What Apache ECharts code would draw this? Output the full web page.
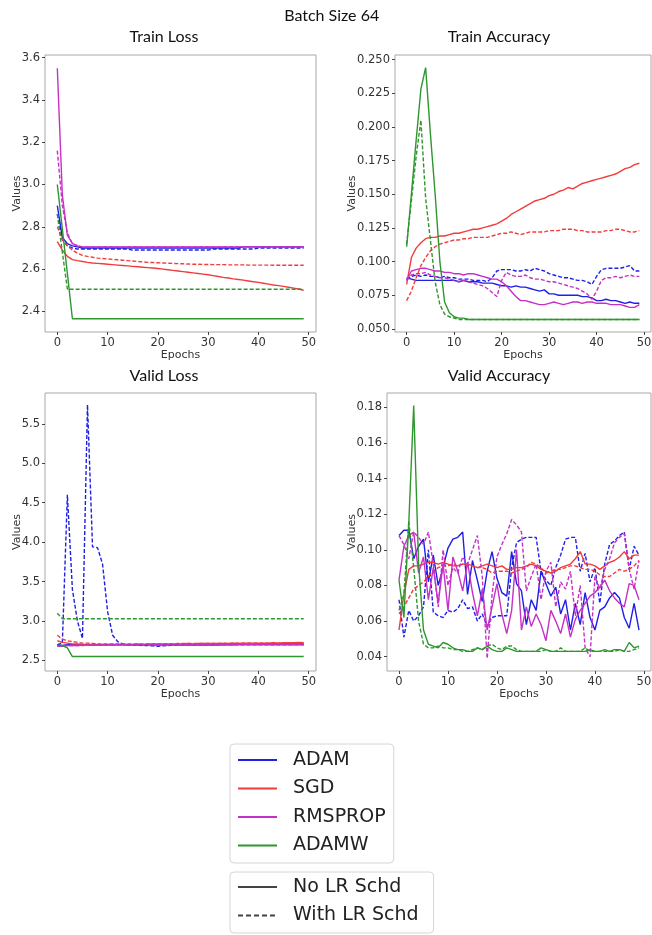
<!DOCTYPE html>
<html>
<head>
<meta charset="utf-8">
<script src="https://cdn.jsdelivr.net/npm/echarts@6/dist/echarts.min.js"></script>
<style>
  html, body { margin: 0; padding: 0; background: #fff; }
  #chart { width: 652px; height: 935px; }
</style>
</head>
<body>
<div id="chart"></div>
<script>
var epochs = [];
for (var i = 0; i < 50; i++) {
  epochs.push(i);
}

// Train Loss
var trainLossAdam = [
  2.90, 2.75, 2.72, 2.71, 2.705, 2.70, 2.70, 2.70, 2.70, 2.70,
  2.70, 2.70, 2.70, 2.70, 2.70, 2.70, 2.70, 2.70, 2.70, 2.70,
  2.70, 2.70, 2.70, 2.70, 2.70, 2.70, 2.70, 2.70, 2.70, 2.70,
  2.70, 2.70, 2.70, 2.70, 2.70, 2.70, 2.70, 2.705, 2.705, 2.705,
  2.705, 2.705, 2.705, 2.705, 2.705, 2.705, 2.705, 2.705, 2.705, 2.705
];
var trainLossAdamLR = [
  2.86, 2.74, 2.71, 2.70, 2.695, 2.695, 2.695, 2.695, 2.695, 2.695,
  2.695, 2.695, 2.695, 2.695, 2.695, 2.69, 2.69, 2.69, 2.69, 2.69,
  2.69, 2.69, 2.69, 2.69, 2.69, 2.69, 2.69, 2.69, 2.69, 2.69,
  2.69, 2.695, 2.695, 2.695, 2.695, 2.695, 2.695, 2.695, 2.695, 2.695,
  2.70, 2.70, 2.70, 2.70, 2.70, 2.70, 2.70, 2.70, 2.70, 2.70
];
var trainLossSgd = [
  2.73, 2.69, 2.66, 2.645, 2.64, 2.636, 2.632, 2.629, 2.627, 2.625,
  2.623, 2.621, 2.619, 2.617, 2.615, 2.613, 2.611, 2.609, 2.607, 2.605,
  2.603, 2.600, 2.597, 2.594, 2.591, 2.588, 2.585, 2.582, 2.579, 2.576,
  2.573, 2.569, 2.565, 2.561, 2.558, 2.554, 2.551, 2.548, 2.544, 2.540,
  2.537, 2.533, 2.529, 2.525, 2.522, 2.518, 2.514, 2.510, 2.506, 2.500
];
var trainLossSgdLR = [
  2.80, 2.74, 2.71, 2.69, 2.675, 2.665, 2.66, 2.656, 2.652, 2.65,
  2.648, 2.646, 2.644, 2.642, 2.64, 2.638, 2.636, 2.634, 2.632, 2.631,
  2.63, 2.629, 2.628, 2.627, 2.626, 2.625, 2.624, 2.623, 2.623, 2.622,
  2.622, 2.621, 2.621, 2.621, 2.620, 2.620, 2.620, 2.620, 2.619, 2.619,
  2.619, 2.619, 2.619, 2.618, 2.618, 2.618, 2.618, 2.618, 2.618, 2.618
];
var trainLossRms = [
  3.55, 2.95, 2.76, 2.72, 2.71, 2.705, 2.705, 2.705, 2.705, 2.705,
  2.705, 2.705, 2.705, 2.705, 2.705, 2.705, 2.705, 2.705, 2.705, 2.705,
  2.705, 2.705, 2.705, 2.705, 2.705, 2.705, 2.705, 2.705, 2.705, 2.705,
  2.705, 2.705, 2.705, 2.705, 2.705, 2.705, 2.705, 2.705, 2.705, 2.705,
  2.705, 2.705, 2.705, 2.705, 2.705, 2.705, 2.705, 2.705, 2.705, 2.705
];
var trainLossRmsLR = [
  3.16, 2.90, 2.77, 2.72, 2.71, 2.705, 2.705, 2.705, 2.705, 2.705,
  2.705, 2.705, 2.705, 2.705, 2.705, 2.705, 2.705, 2.705, 2.705, 2.705,
  2.705, 2.705, 2.705, 2.705, 2.705, 2.705, 2.705, 2.705, 2.705, 2.705,
  2.705, 2.705, 2.705, 2.705, 2.705, 2.705, 2.705, 2.705, 2.705, 2.705,
  2.705, 2.705, 2.705, 2.705, 2.705, 2.705, 2.705, 2.705, 2.705, 2.705
];
var trainLossAdamw = [
  3.00, 2.79, 2.58, 2.365, 2.365, 2.365, 2.365, 2.365, 2.365, 2.365,
  2.365, 2.365, 2.365, 2.365, 2.365, 2.365, 2.365, 2.365, 2.365, 2.365,
  2.365, 2.365, 2.365, 2.365, 2.365, 2.365, 2.365, 2.365, 2.365, 2.365,
  2.365, 2.365, 2.365, 2.365, 2.365, 2.365, 2.365, 2.365, 2.365, 2.365,
  2.365, 2.365, 2.365, 2.365, 2.365, 2.365, 2.365, 2.365, 2.365, 2.365
];
var trainLossAdamwLR = [
  2.86, 2.68, 2.505, 2.505, 2.505, 2.505, 2.505, 2.505, 2.505, 2.505,
  2.505, 2.505, 2.505, 2.505, 2.505, 2.505, 2.505, 2.505, 2.505, 2.505,
  2.505, 2.505, 2.505, 2.505, 2.505, 2.505, 2.505, 2.505, 2.505, 2.505,
  2.505, 2.505, 2.505, 2.505, 2.505, 2.505, 2.505, 2.505, 2.505, 2.505,
  2.505, 2.505, 2.505, 2.505, 2.505, 2.505, 2.505, 2.505, 2.505, 2.505
];

// Train Accuracy
var trainAccAdam = [
  0.088, 0.087, 0.086, 0.086, 0.086, 0.086, 0.086, 0.086, 0.086, 0.086,
  0.086, 0.085, 0.086, 0.085, 0.085, 0.085, 0.084, 0.084, 0.084, 0.083,
  0.082, 0.082, 0.081, 0.082, 0.081, 0.081, 0.080, 0.079, 0.078, 0.079,
  0.076, 0.076, 0.075, 0.075, 0.075, 0.075, 0.075, 0.074, 0.074, 0.073,
  0.071, 0.071, 0.072, 0.071, 0.071, 0.070, 0.069, 0.070, 0.069, 0.069
];
var trainAccAdamLR = [
  0.087, 0.089, 0.090, 0.089, 0.090, 0.089, 0.089, 0.088, 0.089, 0.088,
  0.088, 0.087, 0.087, 0.087, 0.086, 0.086, 0.086, 0.085, 0.088, 0.093,
  0.094, 0.094, 0.094, 0.093, 0.093, 0.094, 0.093, 0.095, 0.094, 0.093,
  0.091, 0.090, 0.089, 0.088, 0.088, 0.087, 0.086, 0.086, 0.085, 0.083,
  0.089, 0.094, 0.095, 0.095, 0.095, 0.095, 0.096, 0.097, 0.093, 0.093
];
var trainAccSgd = [
  0.083, 0.103, 0.110, 0.114, 0.117, 0.118, 0.118, 0.119, 0.119, 0.120,
  0.121, 0.121, 0.122, 0.123, 0.124, 0.124, 0.125, 0.126, 0.127, 0.128,
  0.130, 0.132, 0.135, 0.137, 0.139, 0.141, 0.143, 0.145, 0.146, 0.147,
  0.149, 0.150, 0.152, 0.153, 0.155, 0.154, 0.156, 0.158, 0.159, 0.160,
  0.161, 0.162, 0.163, 0.164, 0.165, 0.167, 0.169, 0.170, 0.172, 0.173
];
var trainAccSgdLR = [
  0.071, 0.078, 0.088, 0.097, 0.103, 0.108, 0.111, 0.113, 0.114, 0.115,
  0.116, 0.116, 0.117, 0.117, 0.118, 0.118, 0.118, 0.118, 0.119, 0.120,
  0.121, 0.121, 0.122, 0.121, 0.120, 0.121, 0.122, 0.122, 0.122, 0.122,
  0.123, 0.123, 0.123, 0.124, 0.124, 0.124, 0.123, 0.123, 0.122, 0.122,
  0.122, 0.122, 0.123, 0.123, 0.124, 0.124, 0.123, 0.122, 0.122, 0.123
];
var trainAccRms = [
  0.086, 0.093, 0.094, 0.095, 0.095, 0.094, 0.093, 0.093, 0.092, 0.092,
  0.091, 0.091, 0.090, 0.091, 0.091, 0.090, 0.089, 0.088, 0.087, 0.087,
  0.085, 0.082, 0.078, 0.074, 0.071, 0.071, 0.070, 0.069, 0.068, 0.068,
  0.069, 0.070, 0.069, 0.068, 0.069, 0.070, 0.070, 0.069, 0.070, 0.070,
  0.069, 0.069, 0.069, 0.068, 0.068, 0.068, 0.067, 0.066, 0.066, 0.068
];
var trainAccRmsLR = [
  0.086, 0.090, 0.091, 0.091, 0.092, 0.090, 0.089, 0.088, 0.088, 0.087,
  0.086, 0.085, 0.086, 0.085, 0.084, 0.083, 0.082, 0.080, 0.077, 0.074,
  0.086, 0.092, 0.090, 0.089, 0.089, 0.090, 0.088, 0.087, 0.087, 0.086,
  0.085, 0.085, 0.084, 0.083, 0.082, 0.081, 0.080, 0.078, 0.076, 0.072,
  0.078, 0.086, 0.088, 0.088, 0.089, 0.088, 0.089, 0.090, 0.089, 0.089
];
var trainAccAdamw = [
  0.111, 0.150, 0.190, 0.228, 0.244, 0.195, 0.150, 0.100, 0.070, 0.062,
  0.059, 0.058, 0.058, 0.057, 0.057, 0.057, 0.057, 0.057, 0.057, 0.057,
  0.057, 0.057, 0.057, 0.057, 0.057, 0.057, 0.057, 0.057, 0.057, 0.057,
  0.057, 0.057, 0.057, 0.057, 0.057, 0.057, 0.057, 0.057, 0.057, 0.057,
  0.057, 0.057, 0.057, 0.057, 0.057, 0.057, 0.057, 0.057, 0.057, 0.057
];
var trainAccAdamwLR = [
  0.113, 0.145, 0.178, 0.205, 0.147, 0.116, 0.085, 0.068, 0.061, 0.059,
  0.058, 0.057, 0.057, 0.057, 0.057, 0.057, 0.057, 0.057, 0.057, 0.057,
  0.057, 0.057, 0.057, 0.057, 0.057, 0.057, 0.057, 0.057, 0.057, 0.057,
  0.057, 0.057, 0.057, 0.057, 0.057, 0.057, 0.057, 0.057, 0.057, 0.057,
  0.057, 0.057, 0.057, 0.057, 0.057, 0.057, 0.057, 0.057, 0.057, 0.057
];

// Valid Loss
var validLossAdam = [
  2.69, 2.69, 2.70, 2.70, 2.70, 2.70, 2.70, 2.70, 2.70, 2.70,
  2.70, 2.70, 2.70, 2.70, 2.70, 2.70, 2.70, 2.70, 2.70, 2.70,
  2.70, 2.70, 2.70, 2.70, 2.70, 2.70, 2.70, 2.70, 2.70, 2.70,
  2.70, 2.70, 2.70, 2.705, 2.705, 2.705, 2.705, 2.705, 2.705, 2.705,
  2.71, 2.71, 2.71, 2.71, 2.71, 2.71, 2.71, 2.71, 2.71, 2.71
];
var validLossAdamLR = [
  2.70, 2.72, 4.60, 3.40, 3.00, 2.78, 5.74, 3.94, 3.93, 3.72,
  3.12, 2.82, 2.74, 2.71, 2.70, 2.70, 2.695, 2.69, 2.69, 2.685,
  2.68, 2.685, 2.69, 2.695, 2.70, 2.70, 2.70, 2.70, 2.70, 2.70,
  2.70, 2.70, 2.70, 2.70, 2.70, 2.70, 2.70, 2.70, 2.70, 2.70,
  2.70, 2.70, 2.70, 2.70, 2.70, 2.70, 2.70, 2.70, 2.70, 2.70
];
var validLossSgd = [
  2.75, 2.73, 2.72, 2.71, 2.71, 2.705, 2.705, 2.705, 2.705, 2.705,
  2.705, 2.705, 2.705, 2.705, 2.705, 2.705, 2.71, 2.705, 2.71, 2.71,
  2.71, 2.71, 2.71, 2.71, 2.71, 2.71, 2.715, 2.71, 2.715, 2.715,
  2.715, 2.715, 2.715, 2.715, 2.715, 2.72, 2.715, 2.72, 2.72, 2.72,
  2.72, 2.72, 2.72, 2.725, 2.72, 2.725, 2.725, 2.725, 2.73, 2.725
];
var validLossSgdLR = [
  2.82, 2.77, 2.75, 2.74, 2.73, 2.72, 2.72, 2.715, 2.71, 2.71,
  2.71, 2.71, 2.71, 2.71, 2.71, 2.71, 2.71, 2.71, 2.71, 2.71,
  2.71, 2.71, 2.715, 2.71, 2.715, 2.715, 2.715, 2.715, 2.715, 2.715,
  2.715, 2.715, 2.715, 2.72, 2.715, 2.72, 2.72, 2.72, 2.72, 2.72,
  2.72, 2.72, 2.72, 2.72, 2.72, 2.72, 2.72, 2.72, 2.725, 2.72
];
var validLossRms = [
  2.68, 2.68, 2.69, 2.69, 2.69, 2.695, 2.695, 2.695, 2.695, 2.695,
  2.70, 2.70, 2.70, 2.70, 2.70, 2.70, 2.70, 2.70, 2.70, 2.70,
  2.70, 2.70, 2.70, 2.70, 2.70, 2.70, 2.70, 2.70, 2.70, 2.70,
  2.70, 2.70, 2.70, 2.70, 2.70, 2.70, 2.705, 2.705, 2.705, 2.705,
  2.705, 2.705, 2.705, 2.705, 2.705, 2.705, 2.705, 2.705, 2.705, 2.705
];
var validLossRmsLR = [
  2.69, 2.685, 2.69, 2.69, 2.69, 2.69, 2.695, 2.695, 2.695, 2.695,
  2.695, 2.695, 2.70, 2.70, 2.70, 2.70, 2.70, 2.70, 2.70, 2.70,
  2.70, 2.70, 2.70, 2.70, 2.70, 2.70, 2.70, 2.70, 2.70, 2.70,
  2.70, 2.70, 2.70, 2.70, 2.70, 2.70, 2.70, 2.70, 2.70, 2.70,
  2.70, 2.70, 2.70, 2.70, 2.70, 2.70, 2.70, 2.70, 2.70, 2.70
];
var validLossAdamw = [
  2.69, 2.69, 2.66, 2.55, 2.55, 2.55, 2.55, 2.55, 2.55, 2.55,
  2.55, 2.55, 2.55, 2.55, 2.55, 2.55, 2.55, 2.55, 2.55, 2.55,
  2.55, 2.55, 2.55, 2.55, 2.55, 2.55, 2.55, 2.55, 2.55, 2.55,
  2.55, 2.55, 2.55, 2.55, 2.55, 2.55, 2.55, 2.55, 2.55, 2.55,
  2.55, 2.55, 2.55, 2.55, 2.55, 2.55, 2.55, 2.55, 2.55, 2.55
];
var validLossAdamwLR = [
  3.10, 3.03, 3.03, 3.03, 3.03, 3.03, 3.03, 3.03, 3.03, 3.03,
  3.03, 3.03, 3.03, 3.03, 3.03, 3.03, 3.03, 3.03, 3.03, 3.03,
  3.03, 3.03, 3.03, 3.03, 3.03, 3.03, 3.03, 3.03, 3.03, 3.03,
  3.03, 3.03, 3.03, 3.03, 3.03, 3.03, 3.03, 3.03, 3.03, 3.03,
  3.03, 3.03, 3.03, 3.03, 3.03, 3.03, 3.03, 3.03, 3.03, 3.03
];

// Valid Accuracy
var validAccAdam = [
  0.108, 0.111, 0.111, 0.095, 0.102, 0.106, 0.082, 0.097, 0.080, 0.090,
  0.101, 0.106, 0.107, 0.110, 0.075, 0.094, 0.083, 0.071, 0.088, 0.099,
  0.084, 0.076, 0.074, 0.099, 0.081, 0.077, 0.058, 0.072, 0.066, 0.088,
  0.081, 0.074, 0.079, 0.064, 0.072, 0.055, 0.070, 0.058, 0.076, 0.062,
  0.055, 0.066, 0.068, 0.073, 0.076, 0.073, 0.062, 0.056, 0.070, 0.055
];
var validAccAdamLR = [
  0.072, 0.051, 0.066, 0.060, 0.063, 0.068, 0.100, 0.065, 0.063, 0.062,
  0.066, 0.065, 0.067, 0.072, 0.067, 0.068, 0.060, 0.064, 0.057, 0.062,
  0.063, 0.063, 0.063, 0.090, 0.104, 0.106, 0.107, 0.107, 0.107, 0.088,
  0.083, 0.080, 0.090, 0.097, 0.106, 0.107, 0.107, 0.088, 0.098, 0.082,
  0.090, 0.070, 0.092, 0.103, 0.105, 0.108, 0.110, 0.089, 0.102, 0.097
];
var validAccSgd = [
  0.055, 0.075, 0.089, 0.091, 0.091, 0.092, 0.093, 0.093, 0.092, 0.093,
  0.092, 0.091, 0.091, 0.092, 0.092, 0.091, 0.090, 0.091, 0.092, 0.091,
  0.090, 0.091, 0.089, 0.089, 0.090, 0.090, 0.091, 0.092, 0.091, 0.089,
  0.088, 0.087, 0.088, 0.090, 0.091, 0.092, 0.095, 0.099, 0.092, 0.092,
  0.091, 0.089, 0.091, 0.093, 0.094, 0.096, 0.099, 0.095, 0.097, 0.097
];
var validAccSgdLR = [
  0.064, 0.068, 0.073, 0.078, 0.080, 0.082, 0.085, 0.088, 0.090, 0.091,
  0.091, 0.092, 0.091, 0.092, 0.091, 0.091, 0.090, 0.090, 0.089, 0.087,
  0.088, 0.088, 0.088, 0.087, 0.088, 0.089, 0.090, 0.093, 0.092, 0.090,
  0.087, 0.088, 0.089, 0.089, 0.090, 0.091, 0.091, 0.090, 0.089, 0.089,
  0.088, 0.086, 0.085, 0.085, 0.087, 0.089, 0.088, 0.089, 0.091, 0.094
];
var validAccRms = [
  0.083, 0.102, 0.108, 0.110, 0.087, 0.096, 0.072, 0.090, 0.070, 0.092,
  0.066, 0.096, 0.088, 0.077, 0.093, 0.076, 0.063, 0.078, 0.055, 0.068,
  0.081, 0.064, 0.053, 0.066, 0.100, 0.055, 0.068, 0.057, 0.064, 0.058,
  0.049, 0.066, 0.060, 0.053, 0.064, 0.051, 0.061, 0.066, 0.070, 0.074,
  0.076, 0.079, 0.083, 0.077, 0.073, 0.070, 0.068, 0.081, 0.080, 0.072
];
var validAccRmsLR = [
  0.108, 0.103, 0.095, 0.110, 0.107, 0.103, 0.110, 0.092, 0.068, 0.100,
  0.080, 0.090, 0.087, 0.096, 0.092, 0.100, 0.108, 0.085, 0.039, 0.075,
  0.096, 0.103, 0.109, 0.117, 0.114, 0.110, 0.077, 0.085, 0.092, 0.072,
  0.088, 0.093, 0.068, 0.082, 0.078, 0.088, 0.063, 0.080, 0.045, 0.040,
  0.085, 0.078, 0.089, 0.095, 0.104, 0.107, 0.109, 0.089, 0.078, 0.094
];
var validAccAdamw = [
  0.083, 0.062, 0.115, 0.181, 0.092, 0.055, 0.047, 0.046, 0.045, 0.048,
  0.047, 0.045, 0.044, 0.044, 0.043, 0.043, 0.045, 0.044, 0.046, 0.044,
  0.043, 0.043, 0.045, 0.044, 0.043, 0.043, 0.043, 0.043, 0.043, 0.045,
  0.044, 0.043, 0.043, 0.043, 0.043, 0.043, 0.043, 0.043, 0.043, 0.044,
  0.043, 0.043, 0.044, 0.043, 0.044, 0.044, 0.043, 0.048, 0.045, 0.046
];
var validAccAdamwLR = [
  0.066, 0.075, 0.116, 0.090, 0.060, 0.047, 0.045, 0.045, 0.046, 0.045,
  0.045, 0.044, 0.044, 0.043, 0.043, 0.044, 0.045, 0.044, 0.046, 0.047,
  0.045, 0.044, 0.046, 0.046, 0.044, 0.043, 0.043, 0.043, 0.043, 0.043,
  0.044, 0.043, 0.043, 0.045, 0.043, 0.043, 0.043, 0.043, 0.045, 0.043,
  0.043, 0.043, 0.043, 0.043, 0.043, 0.044, 0.043, 0.043, 0.044, 0.045
];

// tick labels
var epochTicks = [0, 10, 20, 30, 40, 50];
var trainLossTicks = [2.4, 2.6, 2.8, 3.0, 3.2, 3.4, 3.6];
var trainAccTicks = [0.050, 0.075, 0.100, 0.125, 0.150, 0.175, 0.200, 0.225, 0.250];
var validLossTicks = [2.5, 3.0, 3.5, 4.0, 4.5, 5.0, 5.5];
var validAccTicks = [0.04, 0.06, 0.08, 0.10, 0.12, 0.14, 0.16, 0.18];

var optNames = ['ADAM', 'SGD', 'RMSPROP', 'ADAMW'];
var schdNames = ['No LR Schd', 'With LR Schd'];
var optColors = ['#1f1fe6', '#f23b3b', '#c530c5', '#2e962e'];
var dashType = [4, 2];

var panels = [
  {
    title: 'Train Loss', titleX: 164, titleY: 29,
    grid: { left: 45, top: 55, width: 271, height: 277 },
    yMin: 2.3025, yMax: 3.6125, ticks: trainLossTicks, digits: 1, nameGap: 22,
    lines: [[trainLossAdam, trainLossAdamLR], [trainLossSgd, trainLossSgdLR],
            [trainLossRms, trainLossRmsLR], [trainLossAdamw, trainLossAdamwLR]]
  },
  {
    title: 'Train Accuracy', titleX: 499, titleY: 29,
    grid: { left: 395, top: 55, width: 256, height: 277 },
    yMin: 0.0477, yMax: 0.2534, ticks: trainAccTicks, digits: 3, nameGap: 37,
    lines: [[trainAccAdam, trainAccAdamLR], [trainAccSgd, trainAccSgdLR],
            [trainAccRms, trainAccRmsLR], [trainAccAdamw, trainAccAdamwLR]]
  },
  {
    title: 'Valid Loss', titleX: 164, titleY: 368,
    grid: { left: 45, top: 393, width: 271, height: 278 },
    yMin: 2.367, yMax: 5.89, ticks: validLossTicks, digits: 1, nameGap: 22,
    lines: [[validLossAdam, validLossAdamLR], [validLossSgd, validLossSgdLR],
            [validLossRms, validLossRmsLR], [validLossAdamw, validLossAdamwLR]]
  },
  {
    title: 'Valid Accuracy', titleX: 499, titleY: 368,
    grid: { left: 387, top: 393, width: 264, height: 278 },
    yMin: 0.032, yMax: 0.188, ticks: validAccTicks, digits: 2, nameGap: 29,
    lines: [[validAccAdam, validAccAdamLR], [validAccSgd, validAccSgdLR],
            [validAccRms, validAccRmsLR], [validAccAdamw, validAccAdamwLR]]
  }
];

var tickFont = 'DejaVu Sans';
var titleFont = 'Lato';

var titles = [{
  text: 'Batch Size 64',
  left: 331.7,
  top: 7.7,
  textAlign: 'center',
  padding: 0,
  textStyle: { fontFamily: titleFont, fontSize: 16, fontWeight: 'normal', color: '#111' }
}];
var grids = [];
var xAxes = [];
var yAxes = [];
var series = [];

panels.forEach(function (p, k) {
  titles.push({
    text: p.title,
    left: p.titleX,
    top: p.titleY,
    textAlign: 'center',
    padding: 0,
    textStyle: { fontFamily: titleFont, fontSize: 16, fontWeight: 'normal', color: '#111' }
  });
  grids.push({
    left: p.grid.left, top: p.grid.top, width: p.grid.width, height: p.grid.height,
    show: true, borderColor: '#a8a8a8', borderWidth: 1, backgroundColor: '#fff',
    outerBoundsMode: 'none'
  });
  xAxes.push({
    type: 'value', gridIndex: k, min: -2.45, max: 51.45,
    name: 'Epochs', nameLocation: 'middle', nameGap: 17.5, nameMoveOverlap: false,
    nameTextStyle: { fontFamily: tickFont, fontSize: 11, color: '#333' },
    axisLine: { show: false, onZero: false },
    splitLine: { show: false },
    axisTick: { show: true, length: 3, customValues: epochTicks, lineStyle: { color: '#444' } },
    axisLabel: {
      customValues: epochTicks, margin: 5,
      fontFamily: tickFont, fontSize: 11.5, color: '#333'
    }
  });
  yAxes.push({
    type: 'value', gridIndex: k, min: p.yMin, max: p.yMax,
    name: 'Values', nameLocation: 'middle', nameGap: p.nameGap, nameMoveOverlap: false,
    nameTextStyle: { fontFamily: tickFont, fontSize: 11, color: '#333' },
    axisLine: { show: false, onZero: false },
    splitLine: { show: false },
    axisTick: { show: true, length: 3, customValues: p.ticks, lineStyle: { color: '#444' } },
    axisLabel: {
      customValues: p.ticks, margin: 5,
      fontFamily: tickFont, fontSize: 11.5, color: '#333',
      formatter: (function (d) {
        return function (v) { return v.toFixed(d); };
      })(p.digits)
    }
  });
  for (var o = 0; o < optNames.length; o++) {
    for (var s = 0; s < 2; s++) {
      var vals = p.lines[o][s];
      series.push({
        name: p.title + ' ' + optNames[o] + ' ' + schdNames[s],
        type: 'line',
        xAxisIndex: k,
        yAxisIndex: k,
        showSymbol: false,
        symbol: 'none',
        silent: true,
        z: 2 + o,
        lineStyle: { color: optColors[o], width: 1.4, type: s === 0 ? 'solid' : dashType },
        data: epochs.map(function (e, i) { return [e, vals[i]]; })
      });
    }
  }
});

// empty series that only feed the two legends
optNames.forEach(function (n, o) {
  series.push({
    name: n, type: 'line', xAxisIndex: 0, yAxisIndex: 0, symbol: 'none', data: [],
    itemStyle: { color: optColors[o] },
    lineStyle: { color: optColors[o], width: 1.5 }
  });
});
schdNames.forEach(function (n, s) {
  series.push({
    name: n, type: 'line', xAxisIndex: 0, yAxisIndex: 0, symbol: 'none', data: [],
    itemStyle: { color: '#444' },
    lineStyle: { color: '#444', width: 1.5, type: s === 0 ? 'solid' : [5, 3] }
  });
});

var legendBase = {
  orient: 'vertical',
  left: 230,
  selectedMode: false,
  itemWidth: 39,
  itemHeight: 14,
  itemGap: 9.5,
  borderColor: '#d6d6d6',
  borderWidth: 1,
  borderRadius: 4,
  backgroundColor: '#fff',
  itemStyle: { opacity: 0, borderWidth: 0 },
  textStyle: { fontFamily: tickFont, fontSize: 19, color: '#222', padding: [0, 0, 0, 11] }
};

var option = {
  backgroundColor: '#fff',
  animation: false,
  title: titles,
  grid: grids,
  xAxis: xAxes,
  yAxis: yAxes,
  legend: [
    Object.assign({}, legendBase, { top: 744, padding: [6.5, 8, 8, 7], data: optNames }),
    Object.assign({}, legendBase, { top: 872, padding: [5.5, 15, 8, 7], data: schdNames })
  ],
  series: series
};

var myChart = echarts.init(document.getElementById('chart'));
myChart.setOption(option);
</script>
</body>
</html>
